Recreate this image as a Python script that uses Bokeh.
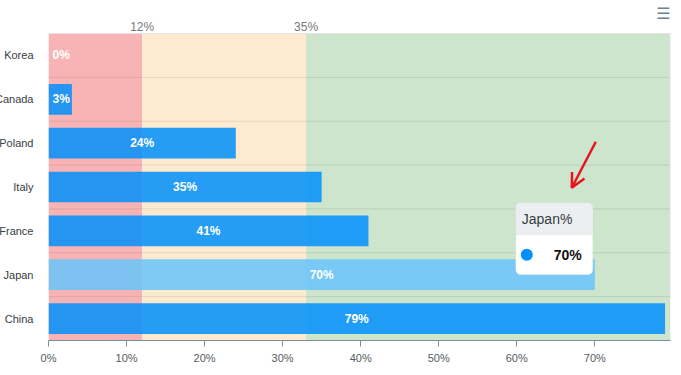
from bokeh.plotting import figure
from bokeh.models import (FactorRange, Range1d, BoxAnnotation, Span, Label, Arrow,
                          OpenHead, LinearAxis, FixedTicker, PrintfTickFormatter, ColumnDataSource)
from bokeh.core.properties import value
from bokeh.embed import file_html
from bokeh.resources import INLINE

# ---------------- data ----------------
categories = ["Korea", "Canada", "Poland", "Italy", "France", "Japan", "China"]
values = [0, 3, 24, 35, 41, 70, 79]
x_ticks = [0, 10, 20, 30, 40, 50, 60, 70]
band_starts = [0, 12, 33]
band_ends = [12, 33, None]
band_colors = ["#f8b4b4", "#feebcf", "#cde5cc"]
band_marks = [12, 33]
band_mark_labels = ["12%", "35%"]
highlight = "Japan"
tooltip_title = "Japan%"
x_max = 79.7

# ---------------- style ----------------
FONT = "Liberation Sans"
FRAME_W, FRAME_H = 622, 307
BL, BT, BR, BB = 62, 33, 2, 27
SHIFT = -14
BAR = "#008ffb"
BAR_HI = "#68c4fc"
ux = x_max / FRAME_W
uy = len(categories) / FRAME_H

p = figure(frame_width=FRAME_W, frame_height=FRAME_H,
           x_range=Range1d(0, x_max),
           y_range=FactorRange(factors=list(reversed(categories))),
           output_backend="svg", toolbar_location=None,
           min_border_left=BL, min_border_top=BT, min_border_right=BR, min_border_bottom=BB)
p.styles = {"margin-left": f"{SHIFT}px"}
p.outline_line_color = None
p.xgrid.visible = False
p.ygrid.visible = False

# y axis (category names)
ya = p.left[0]
ya.axis_line_color = None
ya.major_tick_line_color = None
ya.minor_tick_line_color = None
ya.major_tick_out = 0
ya.major_tick_in = 0
ya.major_label_standoff = 15
ya.major_label_text_font = FONT
ya.major_label_text_font_size = "11px"
ya.major_label_text_color = "#373d3f"

# bottom axis
xa = p.below[0]
xa.ticker = FixedTicker(ticks=x_ticks)
xa.formatter = PrintfTickFormatter(format="%d%%")
xa.axis_line_color = "#78909c"
xa.major_tick_line_color = "#78909c"
xa.major_tick_out = 6
xa.major_tick_in = 0
xa.minor_tick_line_color = None
xa.major_label_text_font = FONT
xa.major_label_text_font_size = "11px"
xa.major_label_text_color = "#555b5e"
xa.major_label_standoff = 5

# top axis with band marks
ta = LinearAxis(ticker=FixedTicker(ticks=band_marks),
                major_label_overrides=dict(zip(band_marks, band_mark_labels)))
ta.axis_line_color = "#e4e4e4"
ta.major_tick_line_color = None
ta.minor_tick_line_color = None
ta.major_tick_out = 0
ta.major_tick_in = 0
ta.major_label_text_font = FONT
ta.major_label_text_font_size = "12px"
ta.major_label_text_color = "#777777"
ta.major_label_standoff = 0
p.add_layout(ta, "above")

# menu icon, as a single label on an outer top axis
icon_x = x_max - 7 * ux
ia = LinearAxis(ticker=FixedTicker(ticks=[icon_x]),
                major_label_overrides={icon_x: "\u2630"})
ia.axis_line_color = None
ia.major_tick_line_color = None
ia.minor_tick_line_color = None
ia.major_tick_out = 0
ia.major_tick_in = 0
ia.major_label_text_font = "DejaVu Sans"
ia.major_label_text_font_size = "16px"
ia.major_label_text_color = "#6e8192"
ia.major_label_standoff = -6
p.add_layout(ia, "above")

# bands
for s, e, c in zip(band_starts, band_ends, band_colors):
    p.add_layout(BoxAnnotation(left=s, right=e, fill_color=c, fill_alpha=1,
                               line_color=None, level="underlay"))

# row separators
for i in range(1, len(categories)):
    p.add_layout(Span(location=i, dimension="width", line_color="black",
                      line_alpha=0.09, line_width=1, level="underlay"))

colors = [BAR_HI if c == highlight else BAR for c in categories]
src = ColumnDataSource(dict(cat=categories, val=values, color=colors,
                            lx=[v / 2 if v >= 10 else 0 for v in values],
                            align=["center" if v >= 10 else "left" for v in values],
                            xoff=[0 if v >= 10 else 4 for v in values],
                            txt=[f"{v}%" for v in values]))

p.hbar(y="cat", left=0, right="val", height=0.7, fill_color="color", fill_alpha=0.85,
       line_color=None, source=src)

p.text(x="lx", y="cat", text="txt", text_align="align", x_offset="xoff",
       text_baseline="middle", text_color="white", text_font=value(FONT),
       text_font_size="12px", text_font_style="bold", source=src)

# tooltip for highlighted bar
hi_idx = categories.index(highlight)
hv = values[hi_idx]
hy = len(categories) - hi_idx - 0.5
t_right = hv - 2 * ux
t_left = t_right - 77 * ux
t_bottom = hy
t_top = t_bottom + 72 * uy
h_bottom = t_top - 32 * uy
p.add_layout(BoxAnnotation(left=t_left, right=t_right, bottom=t_bottom, top=t_top,
                           fill_color="white", fill_alpha=1, line_color="#dcdcdc",
                           line_width=1, border_radius=5, level="annotation"))
p.add_layout(BoxAnnotation(left=t_left, right=t_right, bottom=h_bottom, top=t_top,
                           fill_color="#eceff1", fill_alpha=1, line_color="#dcdcdc",
                           line_width=1, border_radius=(5, 5, 0, 0), level="annotation"))
p.add_layout(Label(x=t_left, y=(t_top + h_bottom) / 2, x_offset=6, text=tooltip_title,
                   text_baseline="middle", text_font=FONT, text_font_size="14px",
                   text_color="#373d3f", level="overlay"))
body_y = t_bottom + 20 * uy
p.scatter(x=[t_left + 11 * ux], y=[body_y], size=12, fill_color=BAR, line_color=None,
          level="overlay")
p.add_layout(Label(x=t_left + 52 * ux, y=body_y, text=f"{hv}%", text_align="center",
                   text_baseline="middle", text_font=FONT, text_font_size="14px",
                   text_font_style="bold", text_color="#111111", level="overlay"))

# hand-drawn arrow pointing at the tooltip
p.add_layout(Arrow(end=OpenHead(size=14, line_color="#e8141c", line_width=2.5),
                   x_start=t_left + 80 * ux, y_start=t_top + 61 * uy,
                   x_end=t_left + 56 * ux, y_end=t_top + 15 * uy,
                   line_color="#e8141c", line_width=2.5, level="overlay"))

open("out.html", "w").write(file_html(p, INLINE))
